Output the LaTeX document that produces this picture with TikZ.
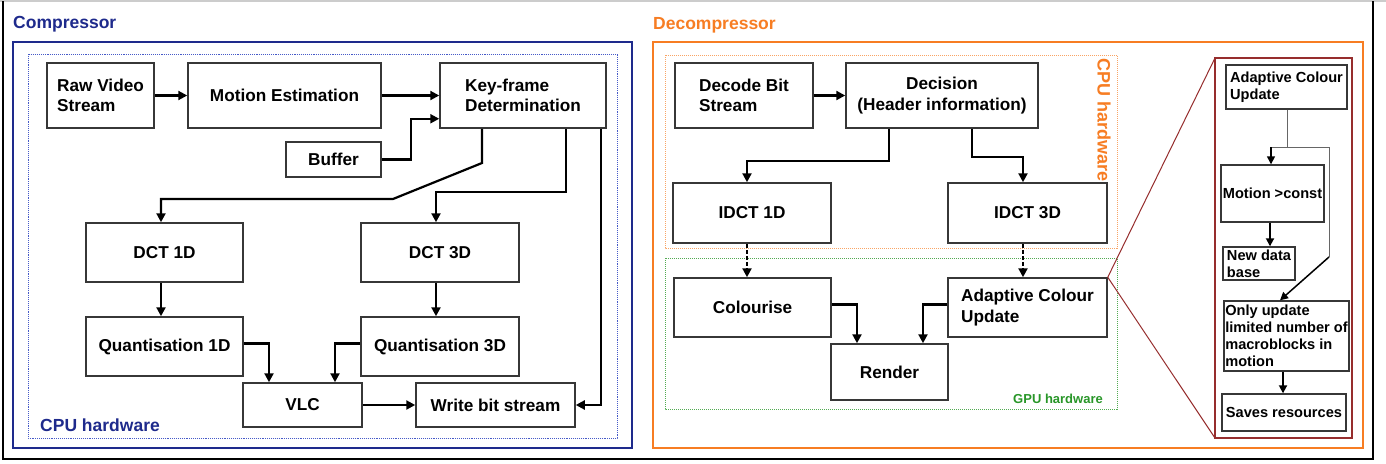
\documentclass[tikz,border=0pt]{standalone}
\usepackage{fontspec}
\setmainfont{Liberation Sans}
\usetikzlibrary{arrows.meta}
\definecolor{navy}{RGB}{30,42,140}
\definecolor{navydot}{RGB}{70,90,200}
\definecolor{orng}{RGB}{247,125,35}
\definecolor{grn}{RGB}{40,150,40}
\definecolor{dred}{RGB}{150,45,45}
\definecolor{bordr}{RGB}{55,55,55}
\begin{document}
\begin{tikzpicture}[x=1pt,y=-1pt,
  box/.style={draw=bordr, line width=1.5pt, fill=white, inner sep=0pt, align=center,
    font=\bfseries\fontsize{17.2}{20.5}\selectfont},
  sbox/.style={draw=bordr, line width=1.4pt, fill=white, inner sep=0pt, align=left,
    font=\bfseries\fontsize{14.6}{17}\selectfont},
  arr/.style={line width=2.2pt, -{Triangle[length=9pt,width=9pt]}},
  darr/.style={arr, dash pattern=on 4pt off 2pt},
  sarr/.style={line width=1.8pt, -{Triangle[length=8pt,width=8pt]}},
  thin/.style={line width=1pt, draw=black!60},
  ttl/.style={font=\bfseries\fontsize{17.5}{20}\selectfont, anchor=west, inner sep=0pt}
]
\useasboundingbox (0,0) rectangle (1386,463);
\fill[white] (0,0) rectangle (1386,463);
% outer frame
\draw[gray!40, line width=1.5pt] (0,1) -- (1386,1);
\draw[line width=1.5pt] (3,1) -- (3,459) -- (1373,459) -- (1373,1);

% ---------------- Compressor ----------------
\node[ttl, text=navy] (ctitle) at (13,24) {Compressor};
\draw[navy, line width=2pt] (13,42) rectangle (632,448);
\draw[navydot, line width=0.9pt, densely dotted] (28,54) rectangle (617,438);
\node[ttl, text=navy] (ccpu) at (40,425) {CPU hardware};

\node[box, align=left, minimum width=107pt, minimum height=65pt] (raw) at (100.5,95.5) {Raw Video\\Stream};
\node[box, minimum width=193pt, minimum height=65pt] (me) at (284.5,95.5) {Motion Estimation};
\node[box, align=left, minimum width=166pt, minimum height=65pt] (kf) at (523,95.5) {Key-frame\\Determination};
\node[box, minimum width=95pt, minimum height=35pt] (buf) at (333.5,159.5) {Buffer};
\node[box, minimum width=157pt, minimum height=59pt] (dct1) at (164.5,252.5) {DCT 1D};
\node[box, minimum width=158pt, minimum height=59pt] (dct3) at (440,252.5) {DCT 3D};
\node[box, minimum width=157pt, minimum height=59pt] (q1) at (164.5,346.5) {Quantisation 1D};
\node[box, minimum width=158pt, minimum height=59pt] (q3) at (440,346.5) {Quantisation 3D};
\node[box, minimum width=119pt, minimum height=44pt] (vlc) at (302.5,405) {VLC};
\node[box, minimum width=159pt, minimum height=44pt] (wbs) at (495.5,405) {Write bit stream};

\draw[arr] (raw) -- (me);
\draw[arr] (me) -- (kf);
\draw[arr] (buf.east) -- (411,159.5) |- ([yshift=10pt]kf.south west);
\draw[arr] (kf.south -| 482,0) -- (482,163) -- (393,199) -- (161,199) -- (dct1.north -| 161,0);
\draw[arr] (kf.south -| 566,0) -- (566,192) -- (436,192) -- (dct3.north -| 436,0);
\draw[arr] (kf.south -| 601,0) |- (wbs.east);
\draw[arr] (dct1.south -| 161,0) -- (q1.north -| 161,0);
\draw[arr] (dct3.south -| 436,0) -- (q3.north -| 436,0);
\draw[arr] ([yshift=3pt]q1.east) -| (vlc.north -| 269,0);
\draw[arr] ([yshift=3pt]q3.west) -| (vlc.north -| 335,0);
\draw[arr] (vlc) -- (wbs);

% ---------------- Decompressor ----------------
\node[ttl, text=orng] (dtitle) at (653,25) {Decompressor};
\draw[orng, line width=2pt] (653,42) rectangle (1363,448);
\draw[orng!70, line width=1pt, densely dotted] (665,55) rectangle (1117,248);
\draw[grn!80, line width=1pt, densely dotted] (665,258) rectangle (1117,409);
\node[text=orng, rotate=-90, inner sep=0pt, font=\bfseries\fontsize{18}{20}\selectfont] (dcpu) at (1104,120) {CPU hardware};
\node[text=grn, anchor=east, inner sep=0pt, font=\bfseries\fontsize{13}{15}\selectfont] (dgpu) at (1103,399) {GPU hardware};

\node[box, align=left, minimum width=138pt, minimum height=65pt] (dbs) at (744,95.5) {Decode Bit\\Stream};
\node[box, minimum width=192pt, minimum height=65pt] (dec) at (942,95.5) {Decision\\(Header information)};
\node[box, minimum width=158pt, minimum height=60pt] (idct1) at (752,213) {IDCT 1D};
\node[box, minimum width=159pt, minimum height=60pt] (idct3) at (1027.5,213) {IDCT 3D};
\node[box, minimum width=157pt, minimum height=59pt] (col) at (752.5,307.5) {Colourise};
\node[box, align=left, minimum width=159pt, minimum height=59pt] (acu) at (1027.5,307.5) {Adaptive Colour\\Update};
\node[box, minimum width=117pt, minimum height=56pt] (ren) at (889.5,372) {Render};

\draw[arr] (dbs) -- (dec);
\draw[arr] (dec.south -| 889,0) -- (889,161) -- (747,161) -- (idct1.north -| 747,0);
\draw[arr] (dec.south -| 972,0) -- (972,157) -- (1023,157) -- (idct3.north -| 1023,0);
\draw[darr] (idct1.south -| 747,0) -- (col.north -| 747,0);
\draw[darr] (idct3.south -| 1023,0) -- (acu.north -| 1023,0);
\draw[arr] ([yshift=3pt]col.east) -| (ren.north -| 857,0);
\draw[arr] ([yshift=3pt]acu.west) -| (ren.north -| 923,0);

% ---------------- Zoom detail ----------------
\coordinate (ztl) at (1215,58);
\coordinate (zbl) at (1215,438);
\draw[dred, line width=1pt] (acu.north east) -- (ztl);
\draw[dred, line width=1pt] (acu.north east) -- (zbl);
\draw[dred, line width=1.6pt, fill=white] (1215,58) rectangle (1352,438);

\node[sbox, minimum width=121pt, minimum height=44pt] (acu2) at (1286.5,87) {Adaptive Colour\\Update};
\node[sbox, minimum width=103pt, minimum height=57pt] (mot) at (1272.5,193.5) {Motion >const};
\node[sbox, minimum width=72pt, minimum height=33pt] (ndb) at (1259,263.5) {New data\\base};
\node[sbox, minimum width=125pt, minimum height=70pt] (ou) at (1286.5,336) {Only update\\limited number of\\macroblocks in\\motion};
\node[sbox, minimum width=124pt, minimum height=37pt] (sr) at (1284,412.5) {Saves resources};

\coordinate (br) at (1287,147);
\draw[thin] (acu2.south -| 1287,0) -- (br) -- (1271,147);
\draw[thin] (br) -- (1329,147) -- (1329,257);
\draw[sarr, line width=1.4pt] (1271,147) -- (mot.north -| 1271,0);
\draw[sarr, line width=1.5pt] (1329,257) -- (ou.north -| 1280,0);
\draw[sarr] (mot.south -| 1270,0) -- (ndb.north -| 1270,0);
\draw[sarr] (ou.south -| 1283,0) -- (sr.north -| 1283,0);
\end{tikzpicture}
\end{document}
